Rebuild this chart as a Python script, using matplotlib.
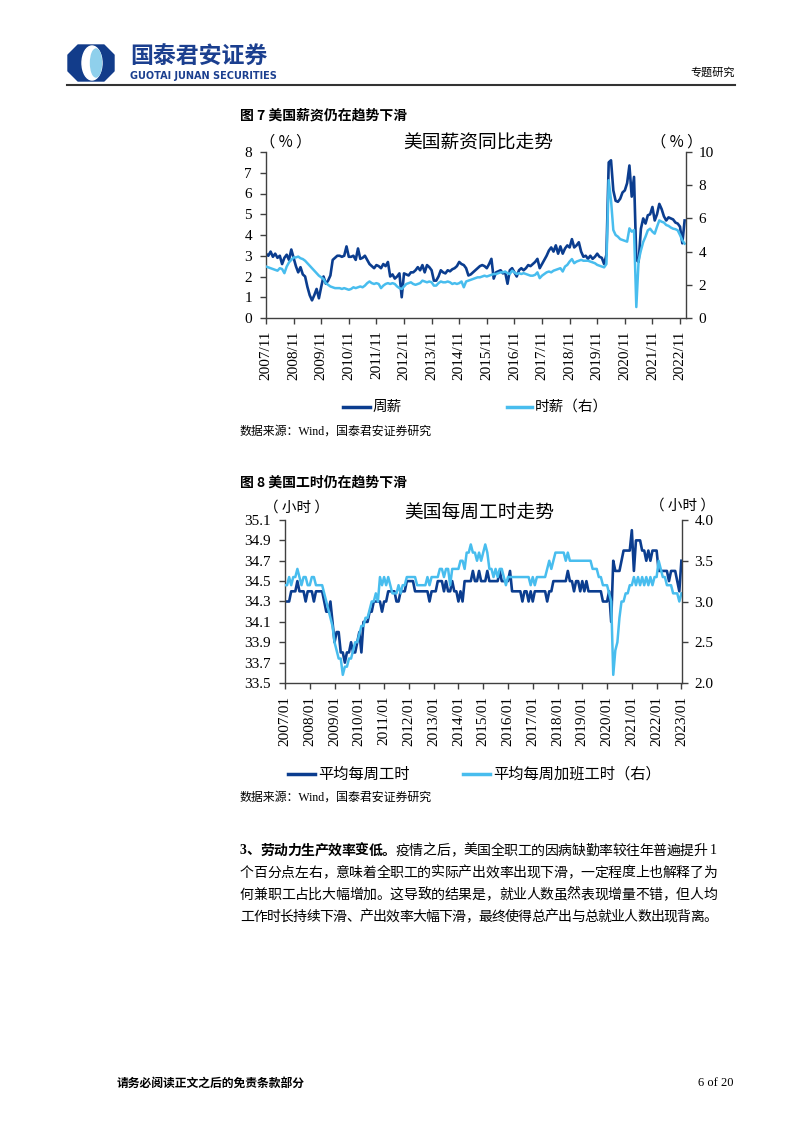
import numpy as np
import matplotlib
matplotlib.use('Agg')
import matplotlib.pyplot as plt
from matplotlib.lines import Line2D
from matplotlib.patches import Ellipse, Polygon

plt.rcParams['font.family'] = ['Liberation Serif', 'Noto Sans CJK SC', 'DejaVu Sans']
CJK = ['Noto Sans CJK SC', 'DejaVu Sans']

DARK = '#0b3d8f'
LIGHT = '#48bdee'
SPINE = '#404040'
NAVY = '#1b3f8f'

# ---- figure 7: US wage growth yoy, monthly 2007/11 - 2023/01 ----
# weekly earnings yoy (%), left axis
weekly_wage = [
    3.1, 3.0,
    3.2, 2.95, 3.1, 2.9, 3.0, 2.6, 2.9, 3.05, 2.8, 3.3, 2.9, 2.5,     # 2008
    2.2, 2.45, 2.1, 2.0, 1.5, 1.1, 0.85, 1.1, 1.4, 0.95, 1.5, 2.0,    # 2009
    1.65, 1.8, 2.05, 2.8, 2.9, 3.0, 3.0, 2.95, 3.0, 3.45, 2.95, 2.95, # 2010
    3.0, 2.8, 3.35, 2.85, 2.9, 3.0, 2.8, 2.6, 2.5, 2.4, 2.55, 2.5,    # 2011
    2.4, 2.6, 2.5, 2.7, 2.0, 2.1, 1.9, 2.0, 2.15, 1.0, 2.15, 2.1,     # 2012
    2.05, 2.2, 2.2, 2.3, 2.45, 2.3, 2.55, 2.2, 2.55, 2.45, 2.3, 1.8,  # 2013
    1.8, 2.0, 2.3, 2.2, 2.15, 2.3, 2.25, 2.35, 2.4, 2.5, 2.7, 2.6,    # 2014
    2.55, 2.4, 2.05, 2.1, 2.2, 2.3, 2.4, 2.5, 2.55, 2.5, 2.4, 2.6,    # 2015
    2.85, 1.9, 2.2, 2.25, 2.3, 2.15, 2.2, 1.65, 2.3, 2.4, 2.2, 2.0,   # 2016
    2.3, 2.4, 2.3, 2.4, 2.55, 2.5, 2.6, 2.7, 2.85, 2.4, 2.6, 2.8,     # 2017
    3.0, 3.25, 3.4, 3.2, 3.5, 3.1, 3.45, 3.1, 3.35, 3.5, 3.4, 3.8,    # 2018
    3.4, 3.5, 3.65, 3.2, 2.95, 3.0, 2.85, 3.0, 2.85, 2.95, 3.1, 2.95, # 2019
    2.9, 2.6, 3.05, 7.5, 7.6, 6.15, 5.65, 5.6, 5.75, 6.05, 6.15, 6.5, # 2020
    7.35, 5.85, 6.8, 2.8, 2.7, 4.3, 4.8, 4.55, 4.95, 5.0, 5.35, 4.7,  # 2021
    5.0, 5.5, 5.25, 4.9, 4.7, 4.85, 4.8, 4.75, 4.6, 4.55, 4.4, 3.6,   # 2022
    4.7,
]
# hourly earnings yoy (%), right axis
hourly_wage = [
    3.1, 3.05,
    3.0, 2.95, 2.9, 2.85, 3.0, 2.95, 2.7, 3.1, 3.35, 3.5, 3.65, 3.65,
    3.7, 3.6, 3.55, 3.45, 3.3, 3.15, 3.0, 2.85, 2.7, 2.55, 2.45, 2.35,
    2.1, 2.0, 1.9, 1.85, 1.8, 1.8, 1.8, 1.75, 1.8, 1.75, 1.7, 1.75,
    1.85, 1.8, 1.85, 1.9, 1.85, 1.95, 2.1, 2.2, 2.1, 2.05, 2.1, 2.05,
    1.8, 1.95, 2.05, 2.1, 2.05, 2.1, 2.05, 1.9, 1.8, 1.75, 1.9, 2.05,
    2.1, 2.15, 2.05, 2.0, 2.05, 2.1, 2.25, 2.2, 2.15, 2.2, 2.15, 1.95,
    1.95, 2.1, 2.2, 2.15, 2.15, 2.2, 2.15, 2.05, 2.1, 2.05, 2.1, 2.2,
    1.85, 2.2, 2.25, 2.3, 2.35, 2.4, 2.45, 2.45, 2.5, 2.55, 2.5, 2.55,
    2.6, 2.65, 2.65, 2.7, 2.75, 2.75, 2.8, 2.7, 2.65, 2.85, 2.75, 2.65,
    2.7, 2.65, 2.7, 2.65, 2.6, 2.55, 2.55, 2.6, 2.75, 2.4, 2.55, 2.65,
    2.75, 2.8, 2.75, 2.85, 2.9, 2.95, 3.0, 2.8, 3.1, 3.2, 3.4, 3.55,
    3.3, 3.4, 3.45, 3.5, 3.45, 3.45, 3.45, 3.4, 3.35, 3.3, 3.2, 3.15,
    3.1, 3.05, 3.25, 8.3, 7.1, 5.3, 5.0, 4.9, 4.75, 4.7, 4.65, 4.6,
    5.4, 5.2, 5.3, 0.66, 3.47, 4.07, 4.58, 4.9, 5.28, 5.38, 5.2, 5.08,
    5.5, 5.88, 5.8, 5.75, 5.6, 5.55, 5.45, 5.38, 5.35, 5.28, 5.0, 4.68,
    4.48,
]
wage_ticks = [0, 12, 24, 36, 48, 60, 72, 84, 96, 108, 120, 132, 144, 156, 168, 180]
wage_tick_labels = ['2007/11', '2008/11', '2009/11', '2010/11', '2011/11', '2012/11',
                    '2013/11', '2014/11', '2015/11', '2016/11', '2017/11', '2018/11',
                    '2019/11', '2020/11', '2021/11', '2022/11']

# ---- figure 8: US weekly hours, monthly 2007/01 - 2023/01 ----
weekly_hours = [
    34.3, 34.3, 34.3, 34.4, 34.4, 34.4, 34.5, 34.4, 34.4, 34.4, 34.3, 34.4,  # 2007
    34.4, 34.4, 34.3, 34.4, 34.4, 34.4, 34.4, 34.3, 34.2, 34.2, 34.3, 34.1,  # 2008
    33.9, 34.0, 34.0, 33.8, 33.8, 33.7, 33.8, 33.8, 33.9, 33.8, 33.8, 33.9,  # 2009
    34.0, 33.8, 34.1, 34.1, 34.1, 34.2, 34.2, 34.3, 34.3, 34.3, 34.3, 34.2,  # 2010
    34.3, 34.3, 34.4, 34.4, 34.4, 34.4, 34.3, 34.3, 34.4, 34.4, 34.4, 34.5,  # 2011
    34.5, 34.5, 34.5, 34.4, 34.4, 34.4, 34.4, 34.4, 34.4, 34.4, 34.3, 34.4,  # 2012
    34.4, 34.4, 34.5, 34.5, 34.5, 34.4, 34.5, 34.4, 34.4, 34.5, 34.4, 34.4,  # 2013
    34.3, 34.4, 34.3, 34.5, 34.5, 34.5, 34.5, 34.6, 34.5, 34.5, 34.6, 34.5,  # 2014
    34.5, 34.5, 34.6, 34.5, 34.5, 34.5, 34.5, 34.5, 34.6, 34.5, 34.5, 34.5,  # 2015
    34.5, 34.6, 34.4, 34.4, 34.4, 34.4, 34.4, 34.3, 34.4, 34.4, 34.3, 34.4,  # 2016
    34.3, 34.4, 34.4, 34.4, 34.4, 34.4, 34.4, 34.3, 34.4, 34.4, 34.5, 34.5,  # 2017
    34.5, 34.5, 34.5, 34.5, 34.5, 34.6, 34.5, 34.5, 34.4, 34.5, 34.5, 34.4,  # 2018
    34.5, 34.4, 34.5, 34.4, 34.4, 34.4, 34.4, 34.4, 34.4, 34.4, 34.3, 34.3,  # 2019
    34.3, 34.4, 34.1, 34.7, 34.6, 34.6, 34.6, 34.7, 34.8, 34.8, 34.8, 34.8,  # 2020
    35.0, 34.6, 34.9, 34.9, 34.9, 34.8, 34.8, 34.7, 34.8, 34.7, 34.8, 34.8,  # 2021
    34.8, 34.6, 34.6, 34.6, 34.6, 34.6, 34.5, 34.6, 34.6, 34.6, 34.5, 34.4,  # 2022
    34.7,
]
overtime_hours = [
    3.2, 3.2, 3.3, 3.2, 3.3, 3.3, 3.4, 3.3, 3.2, 3.3, 3.3, 3.2,
    3.2, 3.3, 3.3, 3.2, 3.2, 3.2, 3.2, 3.1, 3.0, 2.9, 2.8, 2.7,
    2.5, 2.4, 2.3, 2.3, 2.1, 2.2, 2.2, 2.3, 2.3, 2.4, 2.5, 2.5,
    2.6, 2.7, 2.7, 2.8, 2.8, 2.9, 3.0, 3.0, 3.1, 3.0, 3.3, 3.2,
    3.3, 3.2, 3.3, 3.2, 3.1, 3.1, 3.1, 3.2, 3.1, 3.2, 3.2, 3.3,
    3.3, 3.3, 3.3, 3.3, 3.2, 3.2, 3.2, 3.2, 3.2, 3.3, 3.2, 3.3,
    3.3, 3.3, 3.3, 3.4, 3.4, 3.3, 3.4, 3.4, 3.2, 3.4, 3.4, 3.4,
    3.4, 3.5, 3.5, 3.4, 3.6, 3.6, 3.7, 3.6, 3.6, 3.5, 3.6, 3.5,
    3.6, 3.7, 3.6, 3.4, 3.4, 3.3, 3.4, 3.3, 3.4, 3.4, 3.3, 3.2,
    3.3, 3.3, 3.3, 3.3, 3.3, 3.3, 3.3, 3.3, 3.3, 3.3, 3.3, 3.2,
    3.3, 3.2, 3.3, 3.3, 3.3, 3.3, 3.3, 3.4, 3.5, 3.4, 3.5, 3.6,
    3.6, 3.6, 3.6, 3.6, 3.5, 3.6, 3.5, 3.5, 3.5, 3.5, 3.5, 3.5,
    3.5, 3.5, 3.5, 3.5, 3.5, 3.4, 3.4, 3.4, 3.3, 3.3, 3.2, 3.2,
    3.2, 3.1, 3.0, 2.1, 2.4, 2.5, 2.8, 3.0, 3.0, 3.1, 3.1, 3.2,
    3.2, 3.3, 3.2, 3.3, 3.2, 3.3, 3.2, 3.3, 3.2, 3.3, 3.2, 3.3,
    3.3, 3.5, 3.4, 3.3, 3.3, 3.2, 3.2, 3.2, 3.1, 3.1, 3.1, 3.0,
    3.1,
]
hours_ticks = [0, 12, 24, 36, 48, 60, 72, 84, 96, 108, 120, 132, 144, 156, 168, 180, 192]
hours_tick_labels = ['2007/01', '2008/01', '2009/01', '2010/01', '2011/01', '2012/01',
                     '2013/01', '2014/01', '2015/01', '2016/01', '2017/01', '2018/01',
                     '2019/01', '2020/01', '2021/01', '2022/01', '2023/01']

body_head = '3、劳动力生产效率变低。'
body_lines = [
    '疫情之后，美国全职工的因病缺勤率较往年普遍提升 1',
    '个百分点左右，意味着全职工的实际产出效率出现下滑，一定程度上也解释了为',
    '何兼职工占比大幅增加。这导致的结果是，就业人数虽然表现增量不错，但人均',
    '工作时长持续下滑、产出效率大幅下滑，最终使得总产出与总就业人数出现背离。',
]

W, H = 802, 1133


def fx(x):
    return x / W


def fy(y):
    return 1 - y / H


fig = plt.figure(figsize=(8.02, 11.33), dpi=100)
renderer = fig.canvas.get_renderer()


def style_axes(ax, axr, xticks, xlabels):
    for a in (ax, axr):
        for s in a.spines.values():
            s.set_color(SPINE)
            s.set_linewidth(1.0)
        a.spines['top'].set_visible(False)
    ax.spines['right'].set_visible(False)
    axr.spines['left'].set_visible(False)
    axr.spines['bottom'].set_visible(False)
    ax.set_xticks(xticks)
    ax.set_xticklabels(xlabels, rotation=90)
    ax.tick_params(axis='both', direction='out', length=4, width=1, color=SPINE,
                   labelsize=11, pad=6)
    ax.tick_params(axis='x', pad=5)
    axr.tick_params(axis='y', direction='out', length=4, width=1, color=SPINE,
                    labelsize=11, pad=5)


def justified_line(segments, x0, x1, y, size=10):
    # lay the characters out one by one so that the line fills x0..x1
    chars = []
    for text, weight in segments:
        for ch in text:
            t = fig.text(0, 0, ch, fontsize=size, fontweight=weight)
            w = t.get_window_extent(renderer=renderer).width
            t.remove()
            chars.append((ch, weight, w))
    natural = sum(c[2] for c in chars)
    gap = (x1 - x0 - natural) / max(len(chars) - 1, 1)
    x = x0
    for ch, weight, w in chars:
        fig.text(fx(x), fy(y), ch, fontsize=size, fontweight=weight, va='center')
        x += w + gap


# header
logo = fig.add_axes([fx(64), fy(83), 54 / W, 40 / H])
logo.set_xlim(64, 118)
logo.set_ylim(83, 43)
logo.axis('off')
logo.add_patch(Polygon([(78, 45), (104, 45), (114, 55), (114, 71), (104, 81), (78, 81),
                        (68, 71), (68, 55)], closed=True, color='#123c8a', joinstyle='round'))
logo.add_patch(Ellipse((92, 63), 20, 34, color='white'))
logo.add_patch(Ellipse((96, 63), 11, 28, color='#8fd0ec'))
fig.text(fx(130), fy(57), '国泰君安证券', family=CJK, fontsize=16.5, fontweight='bold',
         color=NAVY, va='center')
fig.text(fx(130), fy(76), 'GUOTAI JUNAN SECURITIES', family='DejaVu Sans', fontsize=7.0,
         fontweight='bold', color=NAVY, va='center')
fig.text(fx(735), fy(73), '专题研究', family=CJK, fontsize=8, ha='right', va='center')
fig.add_artist(Line2D([fx(67), fx(735)], [fy(85), fy(85)], color='#333333', lw=1.5))

# ---- chart 1 ----
fig.text(fx(240), fy(116), '图 7 美国薪资仍在趋势下滑', family=CJK, fontsize=10,
         fontweight='bold', va='center')
ax1 = fig.add_axes([fx(266), fy(318), (686 - 266) / W, (318 - 152) / H])
ax1r = ax1.twinx()
x1 = np.arange(len(weekly_wage))
ax1.plot(x1, weekly_wage, color=DARK, lw=1.9)
ax1r.plot(x1, hourly_wage, color=LIGHT, lw=1.8)
ax1.set_xlim(0, 182.6)
ax1.set_ylim(0, 8)
ax1r.set_ylim(0, 10)
ax1.set_yticks(range(0, 9))
ax1r.set_yticks(range(0, 11, 2))
style_axes(ax1, ax1r, wage_ticks, wage_tick_labels)
fig.text(fx(478), fy(143), '美国薪资同比走势', family=CJK, fontsize=13.5, ha='center', va='center')
fig.text(fx(286), fy(142), '（ % ）', family=CJK, fontsize=11, ha='center', va='center')
fig.text(fx(677), fy(142), '（ % ）', family=CJK, fontsize=11, ha='center', va='center')

fig.add_artist(Line2D([fx(343), fx(370)], [fy(407), fy(407)], color=DARK, lw=2.5))
fig.text(fx(373), fy(407), '周薪', family=CJK, fontsize=10.5, va='center')
fig.add_artist(Line2D([fx(507), fx(532)], [fy(407), fy(407)], color=LIGHT, lw=2.5))
fig.text(fx(535), fy(407), '时薪（右）', family=CJK, fontsize=10.5, va='center')
fig.text(fx(240), fy(432), '数据来源：Wind，国泰君安证券研究', fontsize=8.6, va='center')

# ---- chart 2 ----
fig.text(fx(240), fy(483), '图 8 美国工时仍在趋势下滑', family=CJK, fontsize=10,
         fontweight='bold', va='center')
ax2 = fig.add_axes([fx(285), fy(683), (682 - 285) / W, (683 - 520) / H])
ax2r = ax2.twinx()
x2 = np.arange(len(weekly_hours))
ax2.plot(x2, weekly_hours, color=DARK, lw=1.9)
ax2r.plot(x2, overtime_hours, color=LIGHT, lw=1.8)
ax2.set_xlim(0, 192.3)
ax2.set_ylim(33.5, 35.1)
ax2r.set_ylim(2.0, 4.0)
ax2.set_yticks(np.arange(33.5, 35.15, 0.2))
ax2.set_yticklabels([f'{v:.1f}' for v in np.arange(33.5, 35.15, 0.2)])
ax2r.set_yticks(np.arange(2.0, 4.05, 0.5))
ax2r.set_yticklabels([f'{v:.1f}' for v in np.arange(2.0, 4.05, 0.5)])
style_axes(ax2, ax2r, hours_ticks, hours_tick_labels)
fig.text(fx(479), fy(512), '美国每周工时走势', family=CJK, fontsize=13.5, ha='center', va='center')
fig.text(fx(296), fy(508), '（ 小时 ）', family=CJK, fontsize=10.5, ha='center', va='center')
fig.text(fx(683), fy(506), '（ 小时 ）', family=CJK, fontsize=10.5, ha='center', va='center')

fig.add_artist(Line2D([fx(288), fx(315)], [fy(774), fy(774)], color=DARK, lw=2.5))
fig.text(fx(318), fy(774), '平均每周工时', family=CJK, fontsize=11, va='center')
fig.add_artist(Line2D([fx(463), fx(490)], [fy(774), fy(774)], color=LIGHT, lw=2.5))
fig.text(fx(493), fy(774), '平均每周加班工时（右）', family=CJK, fontsize=11, va='center')
fig.text(fx(240), fy(798), '数据来源：Wind，国泰君安证券研究', fontsize=8.6, va='center')

# ---- body text ----
justified_line([(body_head, 'bold'), (body_lines[0], 'normal')], 240, 717, 851)
for i, line in enumerate(body_lines[1:]):
    justified_line([(line, 'normal')], 240, 717, 873 + 22 * i)

# footer
fig.text(fx(117), fy(1083), '请务必阅读正文之后的免责条款部分', family=CJK, fontsize=8.5,
         fontweight='bold', va='center')
fig.text(fx(733), fy(1083), '6 of 20', fontsize=9, ha='right', va='center')

fig.savefig('out.png', dpi=100)
